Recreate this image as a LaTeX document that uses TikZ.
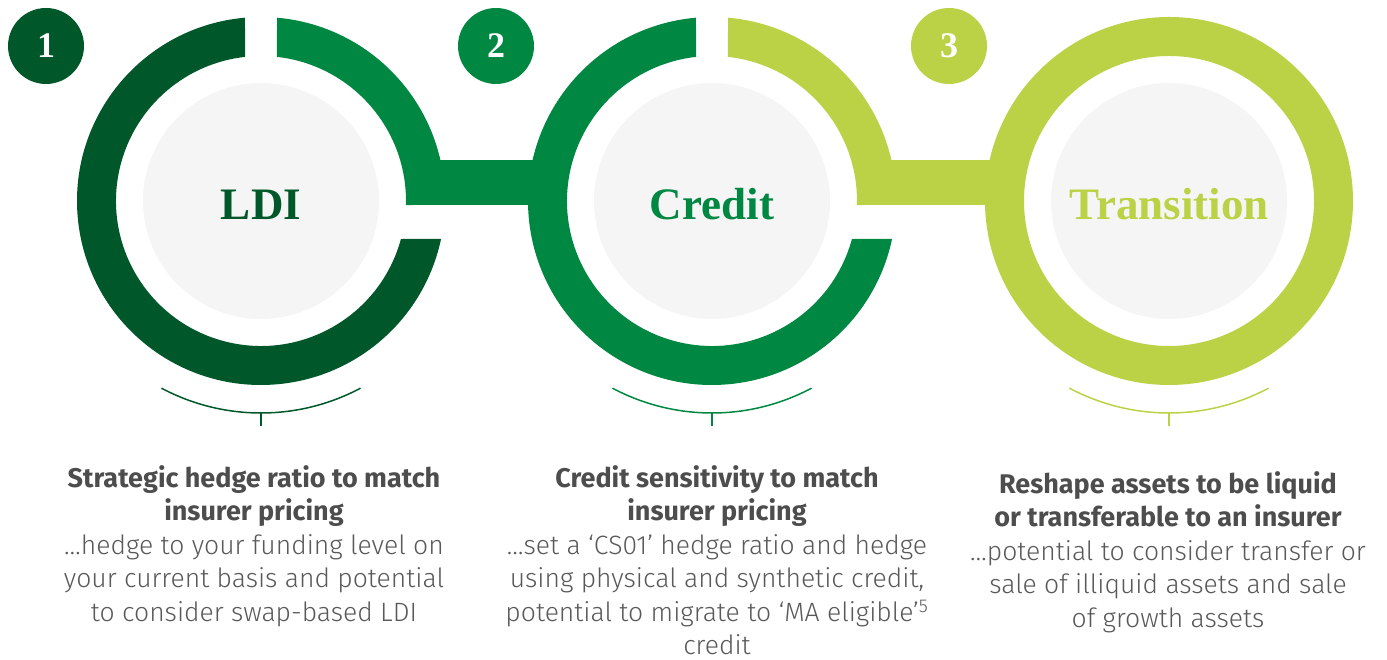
\documentclass[tikz,border=0pt]{standalone}
\usepackage{fontspec}
\setmainfont{Liberation Serif}
\IfFontExistsTF{Fira Sans Light}{\newfontfamily\descfont{Fira Sans Light}}{\newfontfamily\descfont{Fira Sans}}
\newfontfamily\headfont{Fira Sans}
\usetikzlibrary{calc}

\definecolor{ldigreen}{RGB}{0,87,42}
\definecolor{creditgreen}{RGB}{0,135,66}
\definecolor{transgreen}{RGB}{188,210,70}
\definecolor{discgray}{RGB}{245,245,245}
\definecolor{headgray}{RGB}{77,77,77}
\definecolor{bodygray}{RGB}{89,89,89}

\begin{document}
\begin{tikzpicture}[x=1pt, y=1pt,
  disc/.style={circle, fill=discgray, minimum size=236pt, inner sep=0pt},
  badge/.style={circle, minimum size=76pt, inner sep=0pt, text=white, font=\fontsize{36}{36}\selectfont\bfseries},
  title/.style={anchor=base, inner sep=0pt, font=\fontsize{45}{45}\selectfont\bfseries},
  desc/.style={align=center, anchor=north, inner sep=0pt, text=bodygray, font=\descfont\fontsize{26.5}{33.5}\selectfont},
  bracket/.style={line width=1.5pt}]
\useasboundingbox (0,0) rectangle (1387,660);

\node [disc] (ldi) at (261,459) {};
\node [disc] (credit) at (712,459) {};
\node [disc] (transition) at (1169,459) {};

% rings
\fill[ldigreen] (ldi.center) ++(95:184) arc[start angle=95, end angle=348.1, radius=184]
  -- ($(ldi.center)+(344.8:145)$) arc[start angle=344.8, end angle=96.3, radius=145] -- cycle;
\fill[creditgreen] (ldi.center) ++(85:184) arc[start angle=85, end angle=-1.2, radius=184]
  -- ($(ldi.center)+(-1.6:145)$) arc[start angle=-1.6, end angle=83.7, radius=145] -- cycle;
\fill[creditgreen] (credit.center) ++(95:184) arc[start angle=95, end angle=348.1, radius=184]
  -- ($(credit.center)+(344.8:145)$) arc[start angle=344.8, end angle=96.3, radius=145] -- cycle;
\fill[transgreen] (credit.center) ++(85:184) arc[start angle=85, end angle=-1.2, radius=184]
  -- ($(credit.center)+(-1.6:145)$) arc[start angle=-1.6, end angle=83.7, radius=145] -- cycle;
\fill[transgreen, even odd rule] (transition.center) circle[radius=184] (transition.center) circle[radius=145];

% bars between the rings
\draw[creditgreen, line width=45pt] ([xshift=146pt, yshift=18.5pt]ldi.center) -- ([xshift=-150pt, yshift=18.5pt]credit.center);
\draw[transgreen, line width=45pt] ([xshift=146pt, yshift=18.5pt]credit.center) -- ([xshift=-150pt, yshift=18.5pt]transition.center);

\node [title, text=ldigreen] (ldititle) at ([yshift=-19pt]ldi.center) {LDI};
\node [title, text=creditgreen] (credittitle) at ([yshift=-19pt]credit.center) {Credit};
\node [title, text=transgreen] (transtitle) at ([yshift=-19pt]transition.center) {Transition};

\node [badge, fill=ldigreen] (b1) at (46,614) {1};
\node [badge, fill=creditgreen] (b2) at (496,614) {2};
\node [badge, fill=transgreen] (b3) at (949,614) {3};

% brackets
\draw[bracket, ldigreen] (ldi.center) ++(242:212) arc[start angle=242, end angle=298, radius=212];
\draw[bracket, ldigreen] ([yshift=-212pt]ldi.center) -- ++(0,-13);
\draw[bracket, creditgreen] (credit.center) ++(242:212) arc[start angle=242, end angle=298, radius=212];
\draw[bracket, creditgreen] ([yshift=-212pt]credit.center) -- ++(0,-13);
\draw[bracket, transgreen] (transition.center) ++(242:212) arc[start angle=242, end angle=298, radius=212];
\draw[bracket, transgreen] ([yshift=-212pt]transition.center) -- ++(0,-13);

\node [desc] (ldidesc) at (254,195) {\textcolor{headgray}{\headfont\bfseries\fontsize{27}{33.5}\selectfont Strategic hedge ratio to match}\\
  \textcolor{headgray}{\headfont\bfseries\fontsize{27}{33.5}\selectfont insurer pricing}\\
  …hedge to your funding level on\\your current basis and potential\\to consider swap-based LDI};
\node [desc] (creditdesc) at (717,195) {\textcolor{headgray}{\headfont\bfseries\fontsize{27}{33.5}\selectfont Credit sensitivity to match}\\
  \textcolor{headgray}{\headfont\bfseries\fontsize{27}{33.5}\selectfont insurer pricing}\\
  …set a ‘CS01’ hedge ratio and hedge\\using physical and synthetic credit,\\potential to migrate to ‘MA eligible’\textsuperscript{5}\\credit};
\node [desc] (transdesc) at (1168,189) {\textcolor{headgray}{\headfont\bfseries\fontsize{27}{33.5}\selectfont Reshape assets to be liquid}\\
  \textcolor{headgray}{\headfont\bfseries\fontsize{27}{33.5}\selectfont or transferable to an insurer}\\
  …potential to consider transfer or\\sale of illiquid assets and sale\\of growth assets};
\end{tikzpicture}
\end{document}
